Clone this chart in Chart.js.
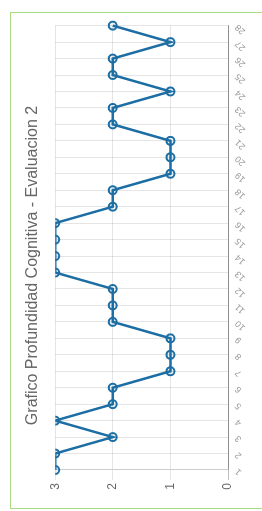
<!DOCTYPE html>
<html>
<head>
<meta charset="utf-8">
<script src="https://cdn.jsdelivr.net/npm/chart.js@4/dist/chart.umd.min.js"></script>
<style>
  html, body { margin: 0; padding: 0; background: #fff; overflow: hidden; width: 262px; height: 511px; }
  #box {
    position: absolute; left: 10px; top: 12px;
    width: 290px; height: 495px;
    border: 1px solid #a9dc80;
  }
  #chart {
    position: absolute; left: 11px; top: 508px;
    transform-origin: 0 0;
    transform: rotate(-90deg);
  }
</style>
</head>
<body>
<div id="box"></div>
<canvas id="chart" width="495" height="260"></canvas>
<script>
// datos de la evaluacion
const labels = ['1', '2', '3', '4', '5', '6', '7', '8', '9', '10', '11', '12', '13', '14',
                '15', '16', '17', '18', '19', '20', '21', '22', '23', '24', '25', '26', '27', '28'];
const profundidad = [3, 3, 2, 3, 2, 2, 1, 1, 1, 2, 2, 2, 3, 3,
                     3, 3, 2, 2, 1, 1, 1, 2, 2, 1, 2, 2, 1, 2];
const yTicks = [0, 1, 2, 3];

const titulo = 'Grafico Profundidad Cognitiva - Evaluacion 2';
const azul = '#1c6ea4';

const ctx = document.getElementById('chart').getContext('2d');
new Chart(ctx, {
    type: 'line',
    data: {
        labels: labels,
        datasets: [
            {
                label: 'Profundidad',
                data: profundidad,
                borderColor: azul,
                backgroundColor: 'rgba(28, 110, 164, 0.08)',
                borderWidth: 2.5,
                pointRadius: 4,
                pointBorderWidth: 2,
                pointBorderColor: azul,
                pointBackgroundColor: 'rgba(28, 110, 164, 0.08)',
                fill: false,
                tension: 0
            }
        ]
    },
    options: {
        responsive: false,
        animation: false,
        devicePixelRatio: 1,
        layout: { padding: { left: 0, right: 10, top: 0, bottom: 0 } },
        scales: {
            x: {
                grid: { color: 'rgba(0,0,0,0.1)', drawTicks: false },
                border: { color: 'rgba(0,0,0,0.25)' },
                ticks: {
                    minRotation: 45,
                    maxRotation: 45,
                    autoSkip: false,
                    padding: 5,
                    color: '#999',
                    font: { family: 'Liberation Sans, Arial, sans-serif', size: 9 }
                },
                afterFit: (s) => { s.height = 43; }
            },
            y: {
                min: 0,
                max: 3,
                afterBuildTicks: (s) => { s.ticks = yTicks.map(v => ({ value: v })); },
                grid: {
                    color: (c) => c.tick && c.tick.value === 0 ? 'rgba(0,0,0,0.25)' : 'rgba(0,0,0,0.1)',
                    tickLength: 10
                },
                border: { color: 'rgba(0,0,0,0.1)' },
                ticks: {
                    padding: 3,
                    color: '#666',
                    font: { family: 'Liberation Sans, Arial, sans-serif', size: 12 }
                },
                afterFit: (s) => { s.width = 38; }
            }
        },
        plugins: {
            legend: { display: false },
            tooltip: { enabled: false },
            title: {
                display: true,
                text: titulo,
                color: '#666',
                padding: { top: 12, bottom: 13 },
                font: { family: 'Liberation Sans, Arial, sans-serif', size: 16, weight: 'normal' }
            }
        }
    }
});
</script>
</body>
</html>
